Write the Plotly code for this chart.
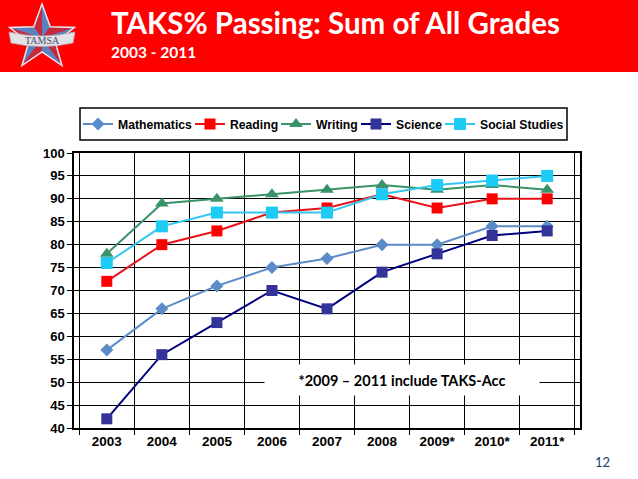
import math
import plotly.graph_objects as go

W, H = 638, 479
L, R, T, B = 74, 58, 153, 51

years = ["2003", "2004", "2005", "2006", "2007", "2008", "2009*", "2010*", "2011*"]
mathematics = [57, 66, 71, 75, 77, 80, 80, 84, 84]
reading = [72, 80, 83, 87, 88, 91, 88, 90, 90]
writing = [78, 89, 90, 91, 92, 93, 92, 93, 92]
science = [42, 56, 63, 70, 66, 74, 78, 82, 83]
social_studies = [76, 84, 87, 87, 87, 91, 93, 94, 95]


def px_x(px):
    return (px - L) / (W - L - R)


def px_y(py):
    return (H - B - py) / (H - T - B)


def pt(x, y):
    return f"{px_x(x):.5f},{px_y(y):.5f}"


fig = go.Figure()

series = [
    ("Mathematics", mathematics, "#5B8CC8", "#5B8CC8", "diamond", 10),
    ("Reading", reading, "#FF0000", "#E8121A", "square", 11),
    ("Writing", writing, "#3A9368", "#3A9368", "triangle-up", 12),
    ("Science", science, "#333399", "#000080", "square", 11),
    ("Social Studies", social_studies, "#1ECBF5", "#33C6EE", "square", 12),
]
# left edge (px) of each legend entry inside the boxed legend row
legend_left = [78, 190, 276, 356, 440]

legend_font = dict(family="Liberation Sans", size=12.2, color="black", weight="bold")
layout_legends = {}
for i, (name, vals, mcol, lcol, sym, size) in enumerate(series):
    key = "legend" if i == 0 else f"legend{i + 1}"
    fig.add_trace(go.Scatter(
        x=years, y=vals, name=name, mode="lines+markers",
        line=dict(color=lcol, width=2),
        marker=dict(symbol=sym, size=size, color=mcol),
        legend=key,
    ))
    layout_legends[key] = dict(
        orientation="h", x=px_x(legend_left[i]), y=px_y(124),
        xanchor="left", yanchor="middle", bgcolor="rgba(0,0,0,0)",
        borderwidth=0, font=legend_font, itemwidth=30,
    )

fig.update_layout(
    width=W, height=H,
    margin=dict(l=L, r=R, t=T, b=B),
    paper_bgcolor="white", plot_bgcolor="white",
    showlegend=True,
    **layout_legends,
)
fig.update_xaxes(
    type="category", tickson="boundaries", showgrid=True, gridcolor="black", gridwidth=1.3,
    ticks="outside", ticklen=5, tickcolor="black",
    showline=True, linecolor="black", linewidth=1.5, mirror=True,
    tickfont=dict(family="Liberation Sans", size=13.5, color="black", weight="bold"),
)
fig.update_yaxes(
    range=[40, 100], dtick=5, showgrid=True, gridcolor="black", gridwidth=1.3,
    ticks="outside", ticklen=5, tickcolor="black",
    showline=True, linecolor="black", linewidth=1.5, mirror=True, zeroline=False,
    tickfont=dict(family="Liberation Sans", size=13, color="black", weight="bold"),
)

shapes = [
    dict(type="rect", xref="paper", yref="paper",
         x0=px_x(0), x1=px_x(W), y0=px_y(72), y1=px_y(0),
         fillcolor="#FF0000", line=dict(width=0), layer="above"),
    # legend frame
    dict(type="rect", xref="paper", yref="paper",
         x0=px_x(80), x1=px_x(567), y0=px_y(140), y1=px_y(108),
         fillcolor="rgba(0,0,0,0)", line=dict(color="black", width=1.5), layer="above"),
]

# logo star: ten facets alternating blue / red
cx, cy, ro, ri = 42, 38, 34, 14
outer = [(cx + ro * math.sin(math.radians(72 * k)), cy - ro * math.cos(math.radians(72 * k))) for k in range(5)]
inner = [(cx + ri * math.sin(math.radians(72 * k + 36)), cy - ri * math.cos(math.radians(72 * k + 36))) for k in range(5)]
for k in range(5):
    o = outer[k]
    i_prev = inner[k - 1]
    i_next = inner[k]
    shapes.append(dict(type="path", xref="paper", yref="paper", layer="above",
                       path=f"M{pt(cx, cy)} L{pt(*i_prev)} L{pt(*o)} Z",
                       fillcolor="#C8283C", line=dict(width=0)))
    shapes.append(dict(type="path", xref="paper", yref="paper", layer="above",
                       path=f"M{pt(cx, cy)} L{pt(*o)} L{pt(*i_next)} Z",
                       fillcolor="#5A80C0", line=dict(width=0)))
star_path = "M" + " L".join(pt(*p) for pair in zip(outer, inner) for p in pair) + " Z"
shapes.append(dict(type="path", xref="paper", yref="paper", layer="above",
                   path=star_path, line=dict(color="#E8E8F0", width=1.5)))
# banner
banner = (f"M{pt(9, 32)} Q{pt(42, 40)} {pt(75, 32)} L{pt(73, 43)} "
          f"Q{pt(42, 50)} {pt(11, 43)} Z")
shapes.append(dict(type="path", xref="paper", yref="paper", layer="above",
                   path=banner, fillcolor="#E2E2E6", line=dict(color="#B0B0B8", width=0.8)))
fig.update_layout(shapes=shapes)

annotations = [
    dict(text="TAMSA", x=px_x(42), y=px_y(40), xref="paper", yref="paper",
         xanchor="center", yanchor="middle", showarrow=False,
         font=dict(family="Liberation Serif", size=10, color="#4B4B6B")),
    dict(text="TAKS% Passing: Sum of All Grades", x=px_x(109), y=px_y(22), xref="paper", yref="paper",
         xanchor="left", yanchor="middle", showarrow=False,
         font=dict(family="Lato", size=29.5, color="white", weight="bold")),
    dict(text="2003 - 2011", x=px_x(109), y=px_y(52), xref="paper", yref="paper",
         xanchor="left", yanchor="middle", showarrow=False,
         font=dict(family="Lato", size=15.5, color="white", weight="bold")),
    dict(text="*2009 – 2011 include TAKS-Acc", x=px_x(402), y=px_y(380), xref="paper", yref="paper",
         xanchor="center", yanchor="middle", showarrow=False, width=272, height=28,
         bgcolor="white", font=dict(family="Lato", size=14.5, color="black", weight="bold")),
    dict(text="12", x=px_x(612), y=px_y(462), xref="paper", yref="paper",
         xanchor="right", yanchor="middle", showarrow=False,
         font=dict(family="Lato", size=13, color="#1F3A73")),
]
fig.update_layout(annotations=annotations)

fig.write_html("out.html", config={"displayModeBar": False},
               post_script="document.body.style.margin='0px';")
